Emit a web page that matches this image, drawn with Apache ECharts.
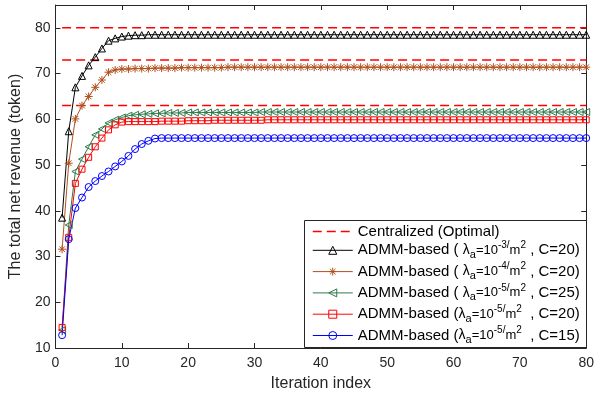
<!DOCTYPE html>
<html><head><meta charset="utf-8">
<script src="https://cdn.jsdelivr.net/npm/echarts@6/dist/echarts.min.js"></script>
<style>html,body{margin:0;padding:0;background:#fff}#c{width:597px;height:398px}</style>
</head><body><div id="c"></div>
<script>
const iterations = [
  1,2,3,4,5,6,7,8,9,10,11,12,13,14,15,16,17,18,19,20,
  21,22,23,24,25,26,27,28,29,30,31,32,33,34,35,36,37,38,39,40,
  41,42,43,44,45,46,47,48,49,50,51,52,53,54,55,56,57,58,59,60,
  61,62,63,64,65,66,67,68,69,70,71,72,73,74,75,76,77,78,79,80];
const centralizedOptimal = [80, 73, 63];
const admm_l3_c20 = [
  38.5,57.4,67.0,69.5,71.8,73.6,75.5,77.2,77.7,78.1,
  78.3,78.4,78.4,78.5,78.5,78.5,78.5,78.5,78.5,78.5,
  78.5,78.5,78.5,78.5,78.5,78.5,78.5,78.5,78.5,78.5,
  78.5,78.5,78.5,78.5,78.5,78.5,78.5,78.5,78.5,78.5,
  78.5,78.5,78.5,78.5,78.5,78.5,78.5,78.5,78.5,78.5,
  78.5,78.5,78.5,78.5,78.5,78.5,78.5,78.5,78.5,78.5,
  78.5,78.5,78.5,78.5,78.5,78.5,78.5,78.5,78.5,78.5,
  78.5,78.5,78.5,78.5,78.5,78.5,78.5,78.5,78.5,78.5];
const admm_l4_c20 = [
  31.6,50.4,60.1,63.0,65.0,67.0,68.6,70.3,70.8,71.0,
  71.0,71.1,71.1,71.1,71.2,71.2,71.2,71.2,71.3,71.3,
  71.3,71.3,71.3,71.3,71.3,71.4,71.4,71.4,71.4,71.4,
  71.4,71.4,71.4,71.4,71.4,71.4,71.4,71.4,71.4,71.4,
  71.4,71.4,71.4,71.4,71.4,71.4,71.4,71.4,71.4,71.4,
  71.4,71.4,71.4,71.4,71.4,71.4,71.4,71.4,71.4,71.4,
  71.4,71.4,71.4,71.4,71.4,71.4,71.4,71.4,71.4,71.4,
  71.4,71.4,71.4,71.4,71.4,71.4,71.4,71.4,71.4,71.4];
const admm_l5_c25 = [
  13.9,36.9,48.6,51.3,54.0,56.6,57.9,59.2,59.9,60.4,
  60.8,61.0,61.1,61.2,61.3,61.3,61.4,61.4,61.4,61.5,
  61.5,61.5,61.5,61.5,61.5,61.5,61.5,61.5,61.5,61.5,
  61.6,61.6,61.6,61.6,61.6,61.6,61.6,61.6,61.6,61.6,
  61.6,61.6,61.6,61.6,61.6,61.6,61.6,61.6,61.6,61.6,
  61.6,61.6,61.6,61.6,61.6,61.6,61.6,61.6,61.6,61.6,
  61.6,61.6,61.6,61.6,61.6,61.6,61.6,61.6,61.6,61.6,
  61.6,61.6,61.6,61.6,61.6,61.6,61.6,61.6,61.6,61.6];
const admm_l5_c20 = [
  14.5,34.2,46.0,49.1,51.7,54.0,55.9,57.7,58.8,59.4,
  59.5,59.5,59.5,59.5,59.5,59.6,59.6,59.6,59.6,59.7,
  59.7,59.7,59.7,59.8,59.8,59.8,59.8,59.8,59.8,59.8,
  59.8,59.9,59.9,59.9,59.9,59.9,59.9,59.9,59.9,59.9,
  59.9,59.9,59.9,59.9,59.9,59.9,59.9,59.9,59.9,59.9,
  59.9,59.9,59.9,59.9,59.9,59.9,59.9,59.9,59.9,59.9,
  59.9,59.9,59.9,59.9,59.9,59.9,59.9,59.9,59.9,59.9,
  59.9,59.9,59.9,59.9,59.9,59.9,59.9,59.9,59.9,59.9];
const admm_l5_c15 = [
  12.8,33.8,40.6,42.9,45.2,46.5,47.6,48.6,49.7,50.8,
  52.0,53.5,54.6,55.3,55.8,55.9,55.9,55.9,55.9,55.9,
  55.9,55.9,55.9,55.9,55.9,55.9,55.9,55.9,55.9,55.9,
  55.9,55.9,55.9,55.9,55.9,55.9,55.9,55.9,55.9,55.9,
  55.9,55.9,55.9,55.9,55.9,55.9,55.9,55.9,55.9,55.9,
  55.9,55.9,55.9,55.9,55.9,55.9,55.9,55.9,55.9,55.9,
  55.9,55.9,55.9,55.9,55.9,55.9,55.9,55.9,55.9,55.9,
  55.9,55.9,55.9,55.9,55.9,55.9,55.9,55.9,55.9,55.9];
const xTicks = [0,10,20,30,40,50,60,70,80];
const yTicks = [10,20,30,40,50,60,70,80];

const FONT = 'Liberation Sans, Arial, Helvetica, sans-serif';
const AX = '#262626';
const CENT = 'Centralized (Optimal)';
const names = ['ADMM-1e-3-C20','ADMM-1e-4-C20','ADMM-1e-5-C25','ADMM-1e-5-C20','ADMM-1e-5-C15'];
const legendText = {};
legendText[CENT] = '{t|' + CENT + '}';
legendText[names[0]] = '{t|ADMM-based ( }{g|λ}{s|a}{e|=10}{p|-3/}{e|m}{p|2}{t| , C=20)}';
legendText[names[1]] = '{t|ADMM-based ( }{g|λ}{s|a}{e|=10}{p|-4/}{e|m}{p|2}{t| , C=20)}';
legendText[names[2]] = '{t|ADMM-based ( }{g|λ}{s|a}{e|=10}{p|-5/}{e|m}{p|2}{t| , C=25)}';
legendText[names[3]] = '{t|ADMM-based (}{g|λ}{s|a}{e|=10}{p|-5/}{e|m}{p|2}{t|  , C=20)}';
legendText[names[4]] = '{t|ADMM-based (}{g|λ}{s|a}{e|=10}{p|-5/}{e|m}{p|2}{t|  , C=15)}';

function pts(vals){ return iterations.map((x,k)=>[x, vals[k]]); }

const series = [];
centralizedOptimal.forEach(v => {
  series.push({
    name: CENT, type: 'line', symbol: 'none', silent: true,
    data: [[iterations[0], v], [iterations[iterations.length-1], v]],
    lineStyle: {color: '#FF0000', width: 1.5, type: [9,5]},
    itemStyle: {color: '#FF0000'}, z: 2
  });
});
const ASTER = 'path://M5,0L5,10M0,5L10,5M1.5,1.5L8.5,8.5M1.5,8.5L8.5,1.5';
const specs = [
  {name: names[0], vals: admm_l3_c20, color: '#000000', symbol: 'triangle', size: 7, rot: 0},
  {name: names[1], vals: admm_l4_c20, color: '#B0501E', symbol: ASTER, size: 8, rot: 0},
  {name: names[2], vals: admm_l5_c25, color: '#2F7A4A', symbol: 'triangle', size: 7, rot: 90},
  {name: names[3], vals: admm_l5_c20, color: '#FF0000', symbol: 'rect', size: 6, rot: 0},
  {name: names[4], vals: admm_l5_c15, color: '#0000FF', symbol: 'circle', size: 7, rot: 0}
];
specs.forEach(s => {
  series.push({
    name: s.name, type: 'line', data: pts(s.vals),
    symbol: s.symbol, symbolSize: s.size, symbolRotate: s.rot, showSymbol: true,
    lineStyle: {color: s.color, width: 1},
    itemStyle: {color: 'rgba(255,255,255,0)', borderColor: s.color, borderWidth: 1},
    z: 3
  });
});
const legendData = [
  {name: CENT, itemStyle: {color: 'rgba(0,0,0,0)', borderColor: 'rgba(0,0,0,0)', borderWidth: 0},
   lineStyle: {width: 1.5, color: '#FF0000'}}
].concat(specs.map(s => ({
  name: s.name,
  lineStyle: {color: s.color, width: 1},
  itemStyle: {color: 'rgba(255,255,255,0)', borderColor: s.color, borderWidth: 1}
})));

const chart = echarts.init(document.getElementById('c'), null, {renderer: 'canvas'});
const axisCommon = {
  axisLine: {show: true, onZero: false, lineStyle: {color: AX, width: 1}},
  axisTick: {show: true, inside: true, length: 5, lineStyle: {color: AX, width: 1}},
  splitLine: {show: false}
};
chart.setOption({
  animation: false,
  backgroundColor: '#fff',
  grid: {left: 53, right: 10, top: 5, bottom: 50, containLabel: false},
  xAxis: [
    Object.assign({
      type: 'value', min: xTicks[0], max: xTicks[xTicks.length-1], interval: 10, position: 'bottom',
      axisLabel: {fontSize: 14, color: AX, margin: 8, fontFamily: FONT},
      name: 'Iteration index', nameLocation: 'middle', nameGap: 28,
      nameTextStyle: {fontSize: 16, color: AX, fontFamily: FONT}
    }, axisCommon),
    Object.assign({
      type: 'value', min: xTicks[0], max: xTicks[xTicks.length-1], interval: 10, position: 'top',
      axisLabel: {show: false}
    }, axisCommon)
  ],
  yAxis: [
    Object.assign({
      type: 'value', min: yTicks[0], max: 85, interval: 10, position: 'left',
      axisLabel: {fontSize: 14, color: AX, margin: 5, fontFamily: FONT, showMaxLabel: false,
        formatter: v => (yTicks.indexOf(v) >= 0 ? String(v) : '')},
      name: 'The total net revenue (token)', nameLocation: 'middle', nameGap: 26,
      nameTextStyle: {fontSize: 16, color: AX, fontFamily: FONT}
    }, axisCommon),
    Object.assign({
      type: 'value', min: yTicks[0], max: 85, interval: 10, position: 'right',
      axisLabel: {show: false}
    }, axisCommon)
  ],
  graphic: [{
    type: 'rect', z: 10, silent: true,
    shape: {x: 304.5, y: 220.5, width: 282, height: 127},
    style: {fill: '#ffffff', stroke: AX, lineWidth: 1}
  }],
  legend: {
    z: 20, orient: 'vertical', left: 304, top: 220, padding: [4, 0, 2, 8],
    itemWidth: 40, itemHeight: 10, itemGap: 1.3, selectedMode: false,
    itemStyle: {borderWidth: 1},
    lineStyle: {width: 1},
    data: legendData,
    formatter: n => legendText[n],
    textStyle: {
      fontFamily: FONT, color: '#000',
      rich: {
        t: {fontSize: 15, lineHeight: 20, fontFamily: FONT, color: '#000'},
        g: {fontSize: 14, lineHeight: 20, fontFamily: FONT, color: '#000'},
        e: {fontSize: 13, lineHeight: 20, fontFamily: FONT, color: '#000'},
        s: {fontSize: 11, lineHeight: 10, verticalAlign: 'bottom', fontFamily: FONT, color: '#000'},
        p: {fontSize: 10, lineHeight: 10, verticalAlign: 'top', fontFamily: FONT, color: '#000'}
      }
    }
  },
  series: series
});
</script></body></html>
